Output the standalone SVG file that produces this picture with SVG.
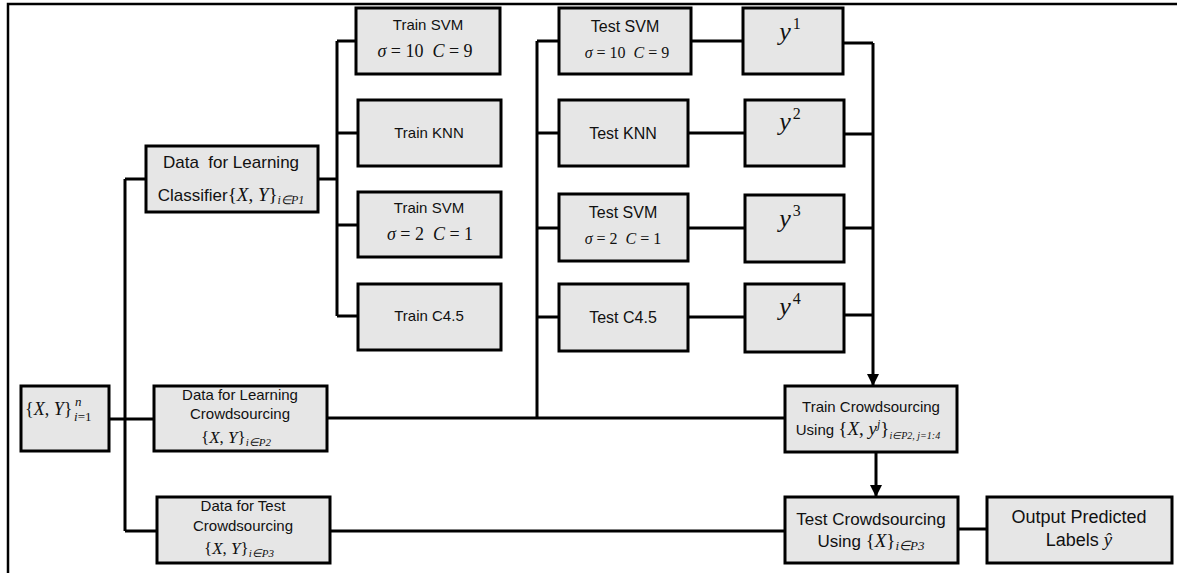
<svg xmlns="http://www.w3.org/2000/svg" width="1177" height="573" viewBox="0 0 1177 573">
<style>
.box{fill:#e6e6e6;stroke:#000;stroke-width:3}
.t{font-family:"Liberation Sans",Arial,sans-serif;fill:#111;text-anchor:middle}
.s{font-family:"Liberation Serif","Times New Roman",serif;fill:#111;text-anchor:start}
.m{font-family:"Liberation Serif","Times New Roman",serif;font-style:italic}
.u{font-family:"Liberation Serif","Times New Roman",serif;font-style:normal}
.p{white-space:pre}
.c{fill:none;stroke:#000;stroke-width:3}
.fr{fill:none;stroke:#000;stroke-width:2.5}
</style>
<defs>
<marker id="ah" markerUnits="userSpaceOnUse" markerWidth="12" markerHeight="12" refX="10" refY="5" orient="auto" viewBox="0 0 10 10">
<path d="M0,0 L10,5 L0,10 z" fill="#000"/>
</marker>
</defs>
<rect width="1177" height="573" fill="#fff"/>
<path class="fr" d="M8,573 V4 H1177"/>

<g id="connectors">
<path class="c" d="M125,179 V531 M125,179 H146 M109,419 H154 M125,531 H157"/>
<path class="c" d="M318,179 H338"/>
<path class="c" d="M337,41 V316 M337,41 H356 M337,133 H358 M337,225 H358 M337,316 H358"/>
<path class="c" d="M537,41 V418 M537,41 H559 M537,133 H559 M537,228 H559 M537,317 H559"/>
<path class="c" d="M327,418 H785"/>
<path class="c" d="M691,41 H743 M688,133 H745 M688,228 H745 M688,317 H745"/>
<path class="c" d="M843,43 H873 M844,134 H873 M844,228 H873 M844,315 H873"/>
<path class="c" d="M873,43 V386" marker-end="url(#ah)"/>
<path class="c" d="M876,452 V497" marker-end="url(#ah)"/>
<path class="c" d="M330,531 H785"/>
<path class="c" d="M958,529 H987"/>
</g>

<g id="n-data">
<rect class="box" x="21" y="386" width="88" height="65"/>
<text class="s" x="25" y="415" font-size="18">{<tspan class="m">X</tspan>, <tspan class="m">Y</tspan>}</text>
<text class="s m" x="75" y="406" font-size="13">n</text>
<text class="s m" x="74" y="421" font-size="13">i<tspan class="u">=1</tspan></text>
</g>

<g id="n-learn-cls">
<rect class="box" x="146" y="146" width="172" height="66"/>
<text class="t p" x="231" y="168" font-size="17">Data  for Learning</text>
<text class="t" x="231" y="201" font-size="17">Classifier<tspan class="u" font-size="19">{<tspan class="m">X</tspan>, <tspan class="m">Y</tspan>}</tspan><tspan class="m" font-size="12" dy="3">i∈P1</tspan></text>
</g>

<g id="n-learn-cs">
<rect class="box" x="154" y="386" width="173" height="65"/>
<text class="t" x="240" y="400" font-size="15">Data for Learning</text>
<text class="t" x="240" y="419" font-size="15">Crowdsourcing</text>
<text class="t u" x="236" y="443" font-size="17">{<tspan class="m">X</tspan>, <tspan class="m">Y</tspan>}<tspan class="m" font-size="11" dy="3">i∈P2</tspan></text>
</g>

<g id="n-test-cs-data">
<rect class="box" x="157" y="497" width="173" height="66"/>
<text class="t" x="243" y="511" font-size="15">Data for Test</text>
<text class="t" x="243" y="531" font-size="15">Crowdsourcing</text>
<text class="t u" x="239" y="554" font-size="17">{<tspan class="m">X</tspan>, <tspan class="m">Y</tspan>}<tspan class="m" font-size="11" dy="3">i∈P3</tspan></text>
</g>

<g id="n-train-svm1">
<rect class="box" x="356" y="8" width="144" height="66"/>
<text class="t" x="428" y="30" font-size="15">Train SVM</text>
<text class="t u p" x="425" y="57" font-size="18"><tspan class="m">σ</tspan> = 10  <tspan class="m">C</tspan> = 9</text>
</g>
<g id="n-train-knn">
<rect class="box" x="358" y="100" width="143" height="66"/>
<text class="t" x="429" y="138" font-size="15">Train KNN</text>
</g>
<g id="n-train-svm2">
<rect class="box" x="358" y="192" width="143" height="65"/>
<text class="t" x="429" y="213" font-size="15">Train SVM</text>
<text class="t u p" x="430" y="240" font-size="18"><tspan class="m">σ</tspan> = 2  <tspan class="m">C</tspan> = 1</text>
</g>
<g id="n-train-c45">
<rect class="box" x="358" y="284" width="143" height="66"/>
<text class="t" x="429" y="321" font-size="15">Train C4.5</text>
</g>

<g id="n-test-svm1">
<rect class="box" x="559" y="8" width="132" height="66"/>
<text class="t" x="625" y="32" font-size="16">Test SVM</text>
<text class="t u p" x="627" y="58" font-size="16"><tspan class="m">σ</tspan> = 10  <tspan class="m">C</tspan> = 9</text>
</g>
<g id="n-test-knn">
<rect class="box" x="559" y="100" width="129" height="66"/>
<text class="t" x="623" y="139" font-size="16">Test KNN</text>
</g>
<g id="n-test-svm2">
<rect class="box" x="559" y="194" width="129" height="67"/>
<text class="t" x="623" y="218" font-size="16">Test SVM</text>
<text class="t u p" x="623" y="244" font-size="16"><tspan class="m">σ</tspan> = 2  <tspan class="m">C</tspan> = 1</text>
</g>
<g id="n-test-c45">
<rect class="box" x="559" y="284" width="129" height="67"/>
<text class="t" x="623" y="323" font-size="16">Test C4.5</text>
</g>

<g id="n-y1">
<rect class="box" x="743" y="8" width="100" height="66"/>
<text class="t m" x="790" y="40" font-size="26">y<tspan class="u" font-size="16" dx="2" dy="-11">1</tspan></text>
</g>
<g id="n-y2">
<rect class="box" x="745" y="100" width="99" height="66"/>
<text class="t m" x="790" y="130" font-size="26">y<tspan class="u" font-size="16" dx="2" dy="-11">2</tspan></text>
</g>
<g id="n-y3">
<rect class="box" x="745" y="195" width="99" height="67"/>
<text class="t m" x="790" y="227" font-size="26">y<tspan class="u" font-size="16" dx="2" dy="-11">3</tspan></text>
</g>
<g id="n-y4">
<rect class="box" x="745" y="284" width="99" height="68"/>
<text class="t m" x="790" y="315" font-size="26">y<tspan class="u" font-size="16" dx="2" dy="-11">4</tspan></text>
</g>

<g id="n-train-crowd">
<rect class="box" x="785" y="386" width="172" height="66"/>
<text class="t" x="871" y="412" font-size="15">Train Crowdsourcing</text>
<text class="t" x="868" y="435" font-size="15">Using <tspan class="u" font-size="19">{<tspan class="m">X</tspan>, <tspan class="m">y</tspan><tspan class="m" font-size="12" dy="-7">j</tspan><tspan dy="7">}</tspan></tspan><tspan class="m" font-size="10" dy="4">i∈P2, j=1:4</tspan></text>
</g>

<g id="n-test-crowd">
<rect class="box" x="785" y="497" width="173" height="66"/>
<text class="t" x="871" y="525" font-size="17">Test Crowdsourcing</text>
<text class="t" x="871" y="547" font-size="17">Using <tspan class="u" font-size="19">{<tspan class="m">X</tspan>}</tspan><tspan class="m" font-size="13" dy="3">i∈P3</tspan></text>
</g>

<g id="n-output">
<rect class="box" x="987" y="497" width="185" height="66"/>
<text class="t" x="1079" y="523" font-size="18">Output Predicted</text>
<text class="t" x="1079" y="546" font-size="18">Labels <tspan class="m" font-size="19">ŷ</tspan></text>
</g>
</svg>
